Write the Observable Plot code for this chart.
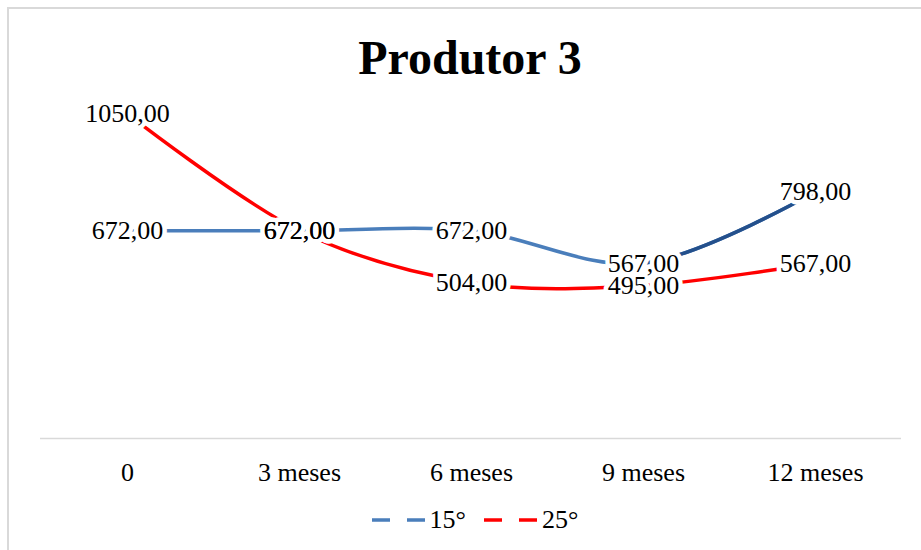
<!DOCTYPE html>
<html>
<head>
<meta charset="utf-8">
<script src="https://cdn.jsdelivr.net/npm/d3@7"></script>
<script src="https://cdn.jsdelivr.net/npm/@observablehq/plot@0.6"></script>
<style>
  html, body { margin: 0; padding: 0; background: #fff; }
  #wrap { position: relative; width: 921px; height: 550px; overflow: hidden; font-family: "Liberation Serif", "Times New Roman", serif; }
  #frame { position: absolute; left: 7px; top: 7px; width: 940px; height: 570px; border: 2px solid #d9d9d9; box-sizing: border-box; }
  #title { position: absolute; left: 9.5px; top: 34px; width: 921px; text-align: center; font-size: 48px; font-weight: bold; line-height: 48px; color: #000; }
  #chart { position: absolute; left: 0; top: 60px; }
  #legend { position: absolute; left: 0; top: 500px; width: 921px; height: 40px; display: flex; justify-content: center; align-items: center; font-size: 26px; color: #000; padding-left: 29px; box-sizing: border-box; }
  .item { display: flex; align-items: center; margin: 0 9px; }
  .item svg { margin-right: 4px; }
</style>
</head>
<body>
<div id="wrap">
  <div id="frame"></div>
  <div id="title">Produtor 3</div>
  <div id="chart"></div>
  <div id="legend"></div>
</div>
<script>
// ---- data ----
const categories = ["0", "3 meses", "6 meses", "9 meses", "12 meses"];
const seriesNames = ["15°", "25°"];
const values15 = [672, 672, 672, 567, 798];
const values25 = [1050, 672, 504, 495, 567];
const yDomain = [0, 1200];

const colors = { "15°": "#4a7ebb", "25°": "#ff0000" };
const darkBlue = "#24508c";

const fmt = v => v.toFixed(2).replace(".", ",");
const rows15 = categories.map((c, i) => ({ cat: c, value: values15[i], series: "15°" }));
const rows25 = categories.map((c, i) => ({ cat: c, value: values25[i], series: "25°" }));
const allRows = rows15.concat(rows25);

const curve = d3.curveCatmullRom.alpha(0);

const marks = [
  Plot.ruleY([0], { stroke: "#d9d9d9", strokeWidth: 1.5 }),
  Plot.line(rows15, { x: "cat", y: "value", stroke: colors["15°"], strokeWidth: 3.5, curve }),
  Plot.line(rows15, { x: "cat", y: "value", stroke: darkBlue, strokeWidth: 3.5, curve }),
  Plot.line(rows25, { x: "cat", y: "value", stroke: colors["25°"], strokeWidth: 3.5, curve }),
  Plot.text(allRows, { x: "cat", y: "value", text: d => fmt(d.value), fill: "white", stroke: "white", strokeWidth: 9, strokeLinejoin: "round", fontSize: 26, textAnchor: "middle", lineAnchor: "middle" }),
  Plot.text(allRows, { x: "cat", y: "value", text: d => fmt(d.value), fill: "black", fontSize: 26, textAnchor: "middle", lineAnchor: "middle" })
];
if (typeof Plot.axisX === "function") {
  marks.push(Plot.axisX({ tickSize: 0, tickPadding: 24, fontSize: 26, fill: "black", label: null }));
}

const plot = Plot.plot({
  width: 921,
  height: 440,
  marginLeft: 40,
  marginRight: 20,
  marginTop: 7,
  marginBottom: 62,
  style: { fontFamily: "Liberation Serif, Times New Roman, serif", fontSize: "26px", color: "black", background: "transparent", overflow: "visible" },
  x: { type: "point", domain: categories, padding: 0.5, axis: typeof Plot.axisX === "function" ? null : "bottom", tickSize: 0, tickPadding: 24, label: null },
  y: { domain: yDomain, axis: null },
  marks
});
document.getElementById("chart").appendChild(plot);

// darker last segment of the 15° line: clip the dark copy from the "9 meses" position onward
(function () {
  const sx = plot.scale("x");
  let x9;
  if (sx && typeof sx.apply === "function") x9 = sx.apply("9 meses");
  else {
    const s = d3.scalePoint().domain(sx.domain).range(sx.range).padding(sx.padding ?? 0.5).align(sx.align ?? 0.5);
    x9 = s("9 meses");
  }
  const svgNS = "http://www.w3.org/2000/svg";
  const defs = document.createElementNS(svgNS, "defs");
  const cp = document.createElementNS(svgNS, "clipPath");
  cp.setAttribute("id", "lastSeg");
  const r = document.createElementNS(svgNS, "rect");
  r.setAttribute("x", x9);
  r.setAttribute("y", -100);
  r.setAttribute("width", 2000);
  r.setAttribute("height", 2000);
  cp.appendChild(r);
  defs.appendChild(cp);
  plot.insertBefore(defs, plot.firstChild);
  const lineGroups = plot.querySelectorAll('g[aria-label="line"]');
  if (lineGroups[1]) lineGroups[1].setAttribute("clip-path", "url(#lastSeg)");
})();

// legend
const legend = document.getElementById("legend");
seriesNames.forEach(name => {
  const item = document.createElement("div");
  item.className = "item";
  item.innerHTML = `<svg width="54" height="10"><line x1="0" x2="54" y1="5" y2="5" stroke="${colors[name]}" stroke-width="3.5" stroke-dasharray="18 17"/></svg><span>${name}</span>`;
  legend.appendChild(item);
});
</script>
</body>
</html>
